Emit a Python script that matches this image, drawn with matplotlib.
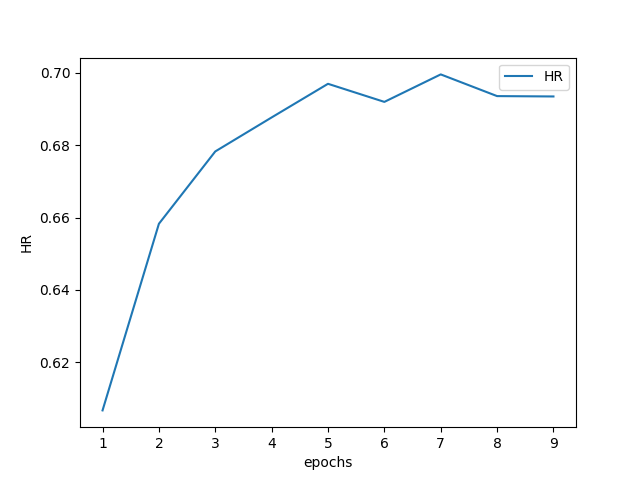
import matplotlib
matplotlib.use("Agg")
import matplotlib.pyplot as plt

epochs = [1, 2, 3, 4, 5, 6, 7, 8, 9]
hr = [0.6067, 0.6583, 0.6783, 0.6877, 0.6970, 0.6920, 0.6996, 0.6936, 0.6935]

fig, ax = plt.subplots(figsize=(6.4, 4.8), dpi=100)
ax.plot(epochs, hr, label="HR")
ax.set_xlabel("epochs")
ax.set_ylabel("HR")
ax.legend()
fig.savefig("out.png")
